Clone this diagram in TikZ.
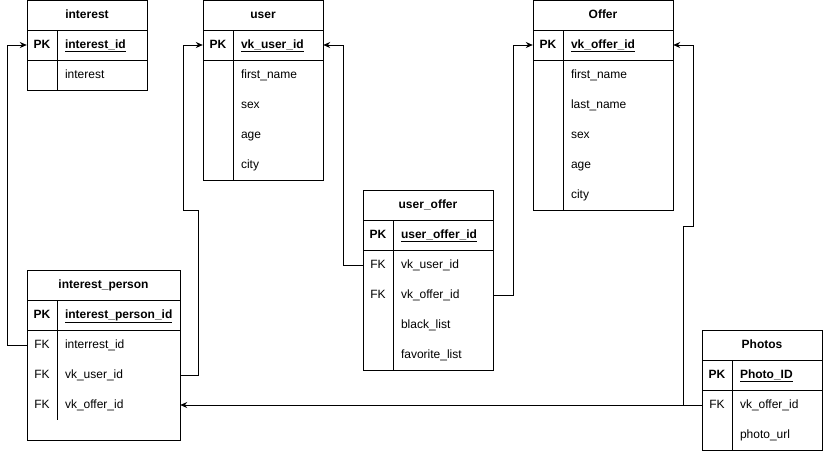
\documentclass[tikz,border=0pt]{standalone}
\usepackage{fontspec}
\setmainfont{Liberation Sans}
\usetikzlibrary{arrows.meta}
\begin{document}
\begin{tikzpicture}[x=1pt,y=-1pt,
  tbl/.style={draw=black, line width=1pt, inner sep=0pt, anchor=north west},
  sep/.style={draw=black, line width=1pt},
  hdr/.style={font=\fontsize{12}{14}\selectfont\bfseries, inner sep=0pt, text height=9pt, text depth=3pt},
  keycell/.style={minimum width=30pt, minimum height=30pt, inner sep=0pt, text height=9pt, text depth=3pt, font=\fontsize{12}{14}\selectfont},
  pkkey/.style={keycell, font=\fontsize{12}{14}\selectfont\bfseries},
  fieldcell/.style={minimum height=30pt, inner ysep=0pt, inner xsep=8pt, text width=#1, align=left, text height=9pt, text depth=3pt, font=\fontsize{12}{14}\selectfont},
  pkfield/.style={fieldcell=#1, font=\fontsize{12}{14}\selectfont\bfseries},
  fk/.style={draw=black, line width=1pt, -{Stealth[length=7pt,width=6pt]}}
]
\useasboundingbox (0,0) rectangle (823,451);

% ---------- interest ----------
\node[tbl, minimum width=120pt, minimum height=90pt] (int) at (27,0) {};
\node[hdr] (int-h) at (87,15) {interest};
\draw[sep] (27,30) -- (147,30) (27,60) -- (147,60) (57,30) -- (57,90);
\node[pkkey] (int-kpk) at (42,45) {PK};
\node[pkfield=74pt, minimum width=90pt] (int-fpk) at (102,45) {\underline{interest\_id}};
\node[fieldcell=74pt, minimum width=90pt] (int-f1) at (102,75) {interest};

% ---------- user ----------
\node[tbl, minimum width=120pt, minimum height=180pt] (user) at (203,0) {};
\node[hdr] (user-h) at (263,15) {user};
\draw[sep] (203,30) -- (323,30) (203,60) -- (323,60) (233,30) -- (233,180);
\node[pkkey] (user-kpk) at (218,45) {PK};
\node[pkfield=74pt, minimum width=90pt] (user-fpk) at (278,45) {\underline{vk\_user\_id}};
\node[fieldcell=74pt, minimum width=90pt] (user-f1) at (278,75) {first\_name};
\node[fieldcell=74pt, minimum width=90pt] (user-f2) at (278,105) {sex};
\node[fieldcell=74pt, minimum width=90pt] (user-f3) at (278,135) {age};
\node[fieldcell=74pt, minimum width=90pt] (user-f4) at (278,165) {city};

% ---------- Offer ----------
\node[tbl, minimum width=140pt, minimum height=210pt] (off) at (533,0) {};
\node[hdr] (off-h) at (603,15) {Offer};
\draw[sep] (533,30) -- (673,30) (533,60) -- (673,60) (563,30) -- (563,210);
\node[pkkey] (off-kpk) at (548,45) {PK};
\node[pkfield=94pt, minimum width=110pt] (off-fpk) at (618,45) {\underline{vk\_offer\_id}};
\node[fieldcell=94pt, minimum width=110pt] (off-f1) at (618,75) {first\_name};
\node[fieldcell=94pt, minimum width=110pt] (off-f2) at (618,105) {last\_name};
\node[fieldcell=94pt, minimum width=110pt] (off-f3) at (618,135) {sex};
\node[fieldcell=94pt, minimum width=110pt] (off-f4) at (618,165) {age};
\node[fieldcell=94pt, minimum width=110pt] (off-f5) at (618,195) {city};

% ---------- user_offer ----------
\node[tbl, minimum width=130pt, minimum height=180pt] (uo) at (363,190) {};
\node[hdr] (uo-h) at (428,205) {user\_offer};
\draw[sep] (363,220) -- (493,220) (363,250) -- (493,250) (393,220) -- (393,370);
\node[pkkey] (uo-kpk) at (378,235) {PK};
\node[pkfield=84pt, minimum width=100pt] (uo-fpk) at (443,235) {\underline{user\_offer\_id}};
\node[keycell] (uo-k1) at (378,265) {FK};
\node[fieldcell=84pt, minimum width=100pt] (uo-f1) at (443,265) {vk\_user\_id};
\node[keycell] (uo-k2) at (378,295) {FK};
\node[fieldcell=84pt, minimum width=100pt] (uo-f2) at (443,295) {vk\_offer\_id};
\node[fieldcell=84pt, minimum width=100pt] (uo-f3) at (443,325) {black\_list};
\node[fieldcell=84pt, minimum width=100pt] (uo-f4) at (443,355) {favorite\_list};

% ---------- interest_person ----------
\node[tbl, minimum width=153pt, minimum height=170pt] (ip) at (27,270) {};
\node[hdr] (ip-h) at (103.5,285) {interest\_person};
\draw[sep] (27,300) -- (180,300) (27,330) -- (180,330) (57,300) -- (57,420);
\node[pkkey] (ip-kpk) at (42,315) {PK};
\node[pkfield=107pt, minimum width=123pt] (ip-fpk) at (118.5,315) {\underline{interest\_person\_id}};
\node[keycell] (ip-k1) at (42,345) {FK};
\node[fieldcell=107pt, minimum width=123pt] (ip-f1) at (118.5,345) {interrest\_id};
\node[keycell] (ip-k2) at (42,375) {FK};
\node[fieldcell=107pt, minimum width=123pt] (ip-f2) at (118.5,375) {vk\_user\_id};
\node[keycell] (ip-k3) at (42,405) {FK};
\node[fieldcell=107pt, minimum width=123pt] (ip-f3) at (118.5,405) {vk\_offer\_id};

% ---------- Photos ----------
\node[tbl, minimum width=120pt, minimum height=120pt] (ph) at (702,330) {};
\node[hdr] (ph-h) at (762,345) {Photos};
\draw[sep] (702,360) -- (822,360) (702,390) -- (822,390) (732,360) -- (732,450);
\node[pkkey] (ph-kpk) at (717,375) {PK};
\node[pkfield=74pt, minimum width=90pt] (ph-fpk) at (777,375) {\underline{Photo\_ID}};
\node[keycell] (ph-k1) at (717,405) {FK};
\node[fieldcell=74pt, minimum width=90pt] (ph-f1) at (777,405) {vk\_offer\_id};
\node[fieldcell=74pt, minimum width=90pt] (ph-f2) at (777,435) {photo\_url};

% ---------- connectors ----------
\draw[fk] (ip-k1.west) -| (7,45) -- (int-kpk.west);
\draw[fk] (ip-f2.east) -| (198,210) -| (183,45) -- (user-kpk.west);
\draw[fk] (uo-k1.west) -| (343,45) -- (user-fpk.east);
\draw[fk] (uo-f2.east) -| (513,45) -- (off-kpk.west);
\draw[fk] (ph-k1.west) -| (683,226) -| (693,45) -- (off-fpk.east);
\draw[fk] (ph-k1.west) -- (ip-f3.east);
\end{tikzpicture}
\end{document}
